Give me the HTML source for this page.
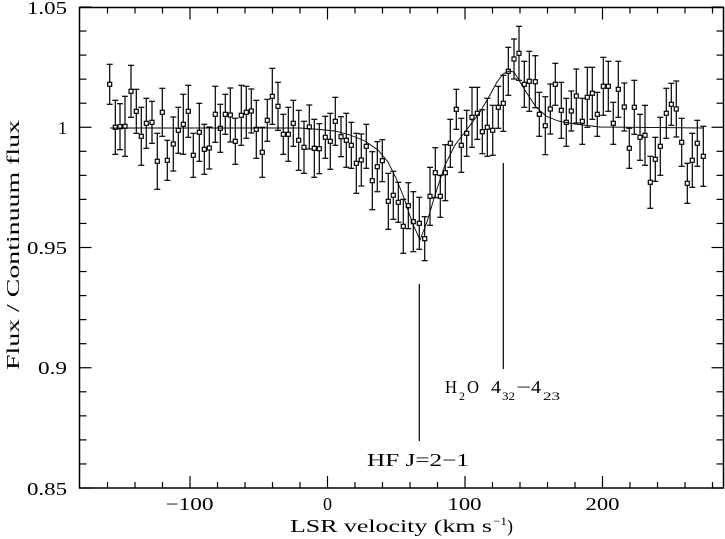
<!DOCTYPE html>
<html><head><meta charset="utf-8"><style>
html,body{margin:0;padding:0;background:#fff;}
svg{display:block;}
text{font-family:"Liberation Serif",serif;font-size:18px;fill:#000;}
.s{font-size:12px;}
</style></head><body>
<svg id="s" width="725" height="539" viewBox="0 0 725 539" xmlns="http://www.w3.org/2000/svg">
<rect x="79.5" y="7.5" width="644" height="480.5" fill="none" stroke="#000" stroke-width="1.5"/>
<g id="ticks" stroke="#000" stroke-width="1.2"></g>
<g id="data" stroke="#000" stroke-width="1.2" fill="none"></g>
<polyline fill="none" stroke="#000" stroke-width="0.9" points="110,128 300,128 320,129.5 335,131 350,135 365,141 378,150 388,162 396,178 404,198 412,222 420,240 427,222 435,195 445,165 455,145 468,128 480,112 490,95 497,82 503,74 509,71 514,72 520,82 528,95 536,107 546,116 558,121 575,124 600,127 703,128"/>
<line x1="419.3" y1="284" x2="419.3" y2="441" stroke="#000" stroke-width="1.2"/>
<line x1="503.3" y1="163" x2="503.3" y2="369" stroke="#000" stroke-width="1.2"/>
<text x="367" y="466" textLength="102" lengthAdjust="spacingAndGlyphs">HF J=2−1</text>
<text x="445" y="393" textLength="12" lengthAdjust="spacingAndGlyphs">H</text>
<text class="s" x="459" y="400">2</text>
<text x="467" y="393" textLength="12" lengthAdjust="spacingAndGlyphs">O</text>
<text x="491" y="393" textLength="10" lengthAdjust="spacingAndGlyphs">4</text>
<text class="s" x="502" y="400" textLength="13" lengthAdjust="spacingAndGlyphs">32</text>
<text x="516" y="393" textLength="15" lengthAdjust="spacingAndGlyphs">−</text>
<text x="531" y="393" textLength="10" lengthAdjust="spacingAndGlyphs">4</text>
<text class="s" x="543" y="400" textLength="17" lengthAdjust="spacingAndGlyphs">23</text>
<g text-anchor="end">
<text x="67" y="14" textLength="40" lengthAdjust="spacingAndGlyphs">1.05</text>
<text x="67" y="134">1</text>
<text x="67" y="254" textLength="40" lengthAdjust="spacingAndGlyphs">0.95</text>
<text x="67" y="374" textLength="29" lengthAdjust="spacingAndGlyphs">0.9</text>
<text x="67" y="495" textLength="40" lengthAdjust="spacingAndGlyphs">0.85</text>
</g>
<g text-anchor="middle">
<text x="189.5" y="510" textLength="48" lengthAdjust="spacingAndGlyphs">−100</text>
<text x="327.5" y="510">0</text>
<text x="464.5" y="510" textLength="34" lengthAdjust="spacingAndGlyphs">100</text>
<text x="602.5" y="510" textLength="34" lengthAdjust="spacingAndGlyphs">200</text>
</g>
<text x="290" y="532" textLength="202" lengthAdjust="spacingAndGlyphs">LSR velocity (km s</text>
<text class="s" x="493" y="525" textLength="14" lengthAdjust="spacingAndGlyphs">−1</text>
<text x="507" y="532">)</text>
<text text-anchor="middle" transform="translate(19,245) rotate(-90)" textLength="250" lengthAdjust="spacingAndGlyphs">Flux / Continuum flux</text>
</svg>
<script>
var NS="http://www.w3.org/2000/svg";
function el(p,t,a){var e=document.createElementNS(NS,t);for(var k in a)e.setAttribute(k,a[k]);p.appendChild(e);}
var tk=document.getElementById("ticks");
for(var v=-160;v<=280;v+=20){var x=327.5+v*1.375;var L=(v%100==0)?12:6;
el(tk,"line",{x1:x,y1:488,x2:x,y2:488-L});el(tk,"line",{x1:x,y1:7.5,x2:x,y2:7.5+L});}
for(var i=0;i<=20;i++){var y=488-i*24.05;var L=(i%5==0)?12:7;
el(tk,"line",{x1:79.5,y1:y,x2:79.5+L,y2:y});el(tk,"line",{x1:723.5,y1:y,x2:723.5-L,y2:y});}
var d=[[109.7,84.3],[115.3,127.3],[120,126.7],[125,126.3],[131,91.3],[136.3,111.3],[141.3,136.3],[146.3,123.3],[152,122.3],[157.3,161.3],[162.3,112.3],[167.3,160.3],[173.3,144],[178.3,130.3],[183.3,124.3],[188.3,111.3],[193.3,155.3],[199.3,132.3],[204.3,149.3],[209.3,148],[215.3,114.3],[220.3,128.3],[225.3,114.3],[230.3,115],[235.3,141.3],[241.3,115.3],[246.3,112.3],[251.3,111],[256.3,129.3],[262.3,152.3],[267.3,120.3],[272.3,96.3],[278,106.3],[283.3,134.3],[288.3,134.3],[293.3,123.3],[298.7,140.3],[304,147.3],[309.3,127],[314.3,148.3],[319.3,148.7],[325.3,137.3],[330.3,141.3],[335.3,121.3],[341,136.7],[346.3,140.3],[351.3,145.3],[356.3,163.3],[361.3,160],[366.3,146.3],[372.3,180.7],[377.3,166.7],[382.3,160.7],[388.3,201.3],[393.3,195.3],[398.3,202.3],[403.3,226.3],[408.3,205.7],[413.3,221.7],[419.3,223.3],[424.7,238.7],[430,196.3],[435.3,172.7],[440.3,196.3],[445.3,172.7],[450.3,143.3],[456.3,109.3],[461.3,145.3],[466.7,133.3],[472,117.3],[477.3,113.3],[482.3,131.7],[487.3,127.3],[492.7,130.3],[498.3,107.3],[503.3,103.3],[508.3,71.3],[514,59],[519,53.3],[524.3,84.3],[529.3,81.3],[535.3,81.7],[539.3,114.3],[545.3,125.7],[550.3,109],[555.3,84.3],[561.3,110.3],[566.3,122.3],[571.3,111],[576.3,96],[582.3,121.3],[587.3,97.3],[592.3,93.3],[597.3,114.3],[603.3,86.3],[608.3,86.3],[613.3,123.3],[618.3,89.3],[624.3,107],[629.3,148.3],[634.3,107.3],[640,137.3],[645,135.3],[650.3,182.3],[655.3,159.3],[660.3,146.3],[666.3,113.3],[671.3,104.3],[676.3,109],[681.7,142.3],[687.3,183.3],[692.3,160.3],[697.3,143.3],[703.3,156.3]];
var g=document.getElementById("data");
d.forEach(function(p,i){var e=20+((i*7)%11);var x=p[0],y=p[1];
el(g,"line",{x1:x,y1:y-e,x2:x,y2:y-2});el(g,"line",{x1:x,y1:y+2,x2:x,y2:y+e});
el(g,"line",{x1:x-3,y1:y-e,x2:x+3,y2:y-e});el(g,"line",{x1:x-3,y1:y+e,x2:x+3,y2:y+e});
el(g,"rect",{x:x-2,y:y-2,width:4,height:4});});
</script>
</body></html>
